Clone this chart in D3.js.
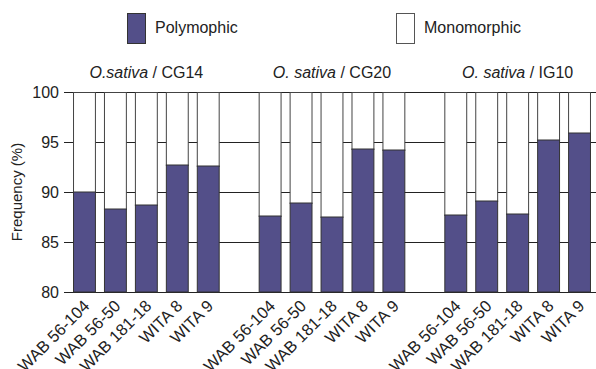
<!DOCTYPE html>
<html>
<head>
<meta charset="utf-8">
<script src="https://cdn.jsdelivr.net/npm/d3@7"></script>
<style>
  body { margin: 0; background: #fff; }
  text { font-family: "Liberation Sans", Arial, sans-serif; fill: #222; }
</style>
</head>
<body>
<div id="chart"></div>
<script>
// data
const groups = ["CG14", "CG20", "IG10"];
const cultivars = ["WAB 56-104", "WAB 56-50", "WAB 181-18", "WITA 8", "WITA 9"];
const polyCG14 = [90.0, 88.3, 88.7, 92.7, 92.6];
const polyCG20 = [87.6, 88.9, 87.5, 94.3, 94.2];
const polyIG10 = [87.7, 89.1, 87.8, 95.2, 95.9];
const yTicks = [80, 85, 90, 95, 100];
const legendLabels = ["Polymophic", "Monomorphic"];

const polyValues = [polyCG14, polyCG20, polyIG10];

const width = 596, height = 369;
const margin = {top: 92, right: 1, bottom: 77, left: 64};
const purple = "#534f89";

const svg = d3.select("#chart").append("svg")
    .attr("width", width)
    .attr("height", height);

// one slot per bar plus an empty slot between groups
let slots = [];
groups.forEach((g, gi) => {
    cultivars.forEach(c => slots.push(g + "|" + c));
    if (gi < groups.length - 1) slots.push("gap" + gi);
});

let rows = [];
groups.forEach((g, gi) => {
    cultivars.forEach((c, ci) => rows.push({group: g, cultivar: c, key: g + "|" + c, poly: polyValues[gi][ci]}));
});

const x = d3.scaleBand()
    .domain(slots)
    .range([69, 595])
    .paddingInner(0.26)
    .paddingOuter(0.13);

const y = d3.scaleLinear()
    .domain([80, 100])
    .range([height - margin.bottom, margin.top]);

// grid lines
svg.append("g")
    .selectAll("line")
    .data(yTicks)
    .join("line")
    .attr("x1", margin.left)
    .attr("x2", width)
    .attr("y1", d => Math.round(y(d)) + 0.5)
    .attr("y2", d => Math.round(y(d)) + 0.5)
    .attr("stroke", "#222")
    .attr("stroke-width", 1);

// y tick labels
svg.append("g")
    .selectAll("text")
    .data(yTicks)
    .join("text")
    .attr("x", margin.left - 5)
    .attr("y", d => y(d))
    .attr("dy", "0.36em")
    .attr("text-anchor", "end")
    .style("font-size", "16px")
    .text(d => d);

// y label
svg.append("text")
    .attr("transform", `translate(22, ${(y(80) + y(100)) / 2}) rotate(-90)`)
    .attr("text-anchor", "middle")
    .style("font-size", "15px")
    .text("Frequency (%)");

// bars: monomorphic (white) on top, polymorphic (purple) below
const bars = svg.append("g");
bars.selectAll(".mono")
    .data(rows)
    .join("rect")
    .attr("class", "mono")
    .attr("x", d => x(d.key) + 0.5)
    .attr("width", x.bandwidth() - 1)
    .attr("y", y(100) + 0.5)
    .attr("height", d => y(d.poly) - y(100))
    .attr("fill", "#fff")
    .attr("stroke", "#444")
    .attr("stroke-width", 1);

bars.selectAll(".poly")
    .data(rows)
    .join("rect")
    .attr("class", "poly")
    .attr("x", d => x(d.key) + 0.5)
    .attr("width", x.bandwidth() - 1)
    .attr("y", d => y(d.poly))
    .attr("height", d => y(80) - y(d.poly))
    .attr("fill", purple)
    .attr("stroke", "#333")
    .attr("stroke-width", 1);

// x labels
svg.append("g")
    .selectAll("text")
    .data(rows)
    .join("text")
    .attr("transform", d => `translate(${x(d.key) + x.bandwidth() / 2 + 2}, ${y(80) + 11}) rotate(-45)`)
    .attr("text-anchor", "end")
    .attr("dy", "0.35em")
    .style("font-size", "16.5px")
    .text(d => d.cultivar);

// group titles
const titles = svg.append("g");
groups.forEach((g, gi) => {
    const first = x(g + "|" + cultivars[0]);
    const last = x(g + "|" + cultivars[cultivars.length - 1]) + x.bandwidth();
    const t = titles.append("text")
        .attr("x", (first + last) / 2)
        .attr("y", 78)
        .attr("text-anchor", "middle")
        .style("font-size", "16px");
    t.append("tspan").style("font-style", "italic").text(gi === 0 ? "O.sativa" : "O. sativa");
    t.append("tspan").text(" / " + g);
});

// legend
const legendX = [127, 396];
const legendFill = [purple, "#fff"];
const legend = svg.append("g");
legendLabels.forEach((l, i) => {
    legend.append("rect")
        .attr("x", legendX[i] + 0.5)
        .attr("y", 13.5)
        .attr("width", 18)
        .attr("height", 30)
        .attr("fill", legendFill[i])
        .attr("stroke", i === 0 ? "#333" : "#555");
    legend.append("text")
        .attr("x", legendX[i] + 28)
        .attr("y", 27)
        .attr("dy", "0.35em")
        .style("font-size", "16px")
        .text(l);
});
</script>
</body>
</html>
